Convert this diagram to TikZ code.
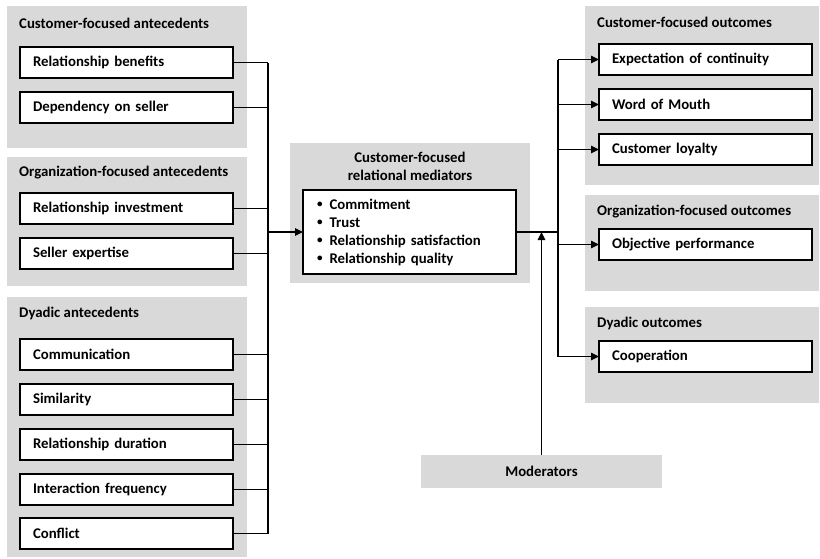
\documentclass[tikz,border=0pt]{standalone}
\usepackage{fontspec}
\setmainfont{Carlito}
\usetikzlibrary{arrows.meta}
\definecolor{panelgray}{HTML}{D9D9D9}
\newcommand{\itemfont}{\fontsize{14.8}{17}\selectfont\bfseries}
\newcommand{\listdot}{\raisebox{0.15ex}{\scalebox{0.75}{\textbullet}}\hspace{7pt}}
\tikzset{
  x=1pt, y=-1pt,
  panel/.style={fill=panelgray, draw=none, inner sep=0pt, outer sep=0pt, anchor=north west},
  paneltitle/.style={anchor=west, inner sep=0pt, font=\itemfont},
  itembox/.style={draw, fill=white, line width=1.6pt, anchor=north west, minimum height=31pt,
    text width=187pt, inner xsep=13pt, inner ysep=0pt, outer sep=0pt, align=left,
    font=\itemfont},
  link/.style={line width=1.6pt},
  arrowlink/.style={line width=1.6pt, -{Triangle[length=8pt,width=7.5pt]}},
}
\begin{document}
\begin{tikzpicture}
\useasboundingbox (0,0) rectangle (820,558);

% ---- panels ----
\node[panel, minimum width=240pt, minimum height=142pt] (gca) at (7,6) {};
\node[panel, minimum width=240pt, minimum height=129pt] (goa) at (7,157) {};
\node[panel, minimum width=240pt, minimum height=260pt] (gda) at (7,297) {};
\node[panel, minimum width=240pt, minimum height=140pt] (gmed) at (290,143) {};
\node[panel, minimum width=234pt, minimum height=179pt] (gco) at (585,6) {};
\node[panel, minimum width=234pt, minimum height=96pt] (goo) at (585,195) {};
\node[panel, minimum width=234pt, minimum height=96pt] (gdo) at (585,307) {};
\node[panel, minimum width=241pt, minimum height=33pt, anchor=center,
      font=\itemfont] (mod) at (541.5,471.5) {Moderators};

% ---- panel titles ----
\node[paneltitle] (tca) at (19,23) {Customer-focused antecedents};
\node[paneltitle] (toa) at (19,173) {Organization-focused antecedents};
\node[paneltitle] (tda) at (19,313) {Dyadic antecedents};
\node[paneltitle] (tco) at (597,22) {Customer-focused outcomes};
\node[paneltitle] (too) at (597,212) {Organization-focused outcomes};
\node[paneltitle] (tdo) at (597,323) {Dyadic outcomes};
\node[inner sep=0pt, align=center, font=\fontsize{14.8}{18}\selectfont\bfseries] (tmed) at (410,166)
  {Customer-focused\\relational mediators};

% ---- antecedents ----
\node[itembox] (rb)  at (20,47)  {Relationship benefits};
\node[itembox] (dep) at (20,92)  {Dependency on seller};
\node[itembox] (ri)  at (20,193) {Relationship investment};
\node[itembox] (se)  at (20,238) {Seller expertise};
\node[itembox] (com) at (20,339) {Communication};
\node[itembox] (sim) at (20,384) {Similarity};
\node[itembox] (rd)  at (20,429) {Relationship duration};
\node[itembox] (ifr) at (20,474) {Interaction frequency};
\node[itembox] (con) at (20,518) {Conflict};

% ---- mediators ----
\node[itembox, minimum height=84pt, text width=185pt, inner xsep=14pt,
      font=\fontsize{14.8}{18}\selectfont\bfseries] (med) at (303,190)
  {\listdot Commitment\\
   \listdot Trust\\
   \listdot Relationship satisfaction\\
   \listdot Relationship quality};

% ---- outcomes ----
\node[itembox] (ex)   at (599,44)  {Expectation of continuity};
\node[itembox] (wom)  at (599,89)  {Word of Mouth};
\node[itembox] (cl)   at (599,134) {Customer loyalty};
\node[itembox] (op)   at (599,229) {Objective performance};
\node[itembox] (coop) at (599,341) {Cooperation};

% ---- left collector ----
\coordinate (lbus) at (268,0);
\foreach \n in {rb,dep,ri,se,com,sim,rd,ifr,con}
  \draw[link] (\n.east) -- (\n.east -| lbus);
\draw[link] (rb.east -| lbus) -- (con.east -| lbus);
\draw[arrowlink] (med.west -| lbus) -- (med.west);

% ---- right distributor ----
\coordinate (rbus) at (558,0);
\draw[link] (med.east) -- (med.east -| rbus);
\draw[link] (ex.west -| rbus) -- (coop.west -| rbus);
\foreach \n in {ex,wom,cl,op,coop}
  \draw[arrowlink] (\n.west -| rbus) -- (\n.west);

% ---- moderators ----
\draw[arrowlink] (mod.north) -- (mod.north |- med.east);
\end{tikzpicture}
\end{document}
